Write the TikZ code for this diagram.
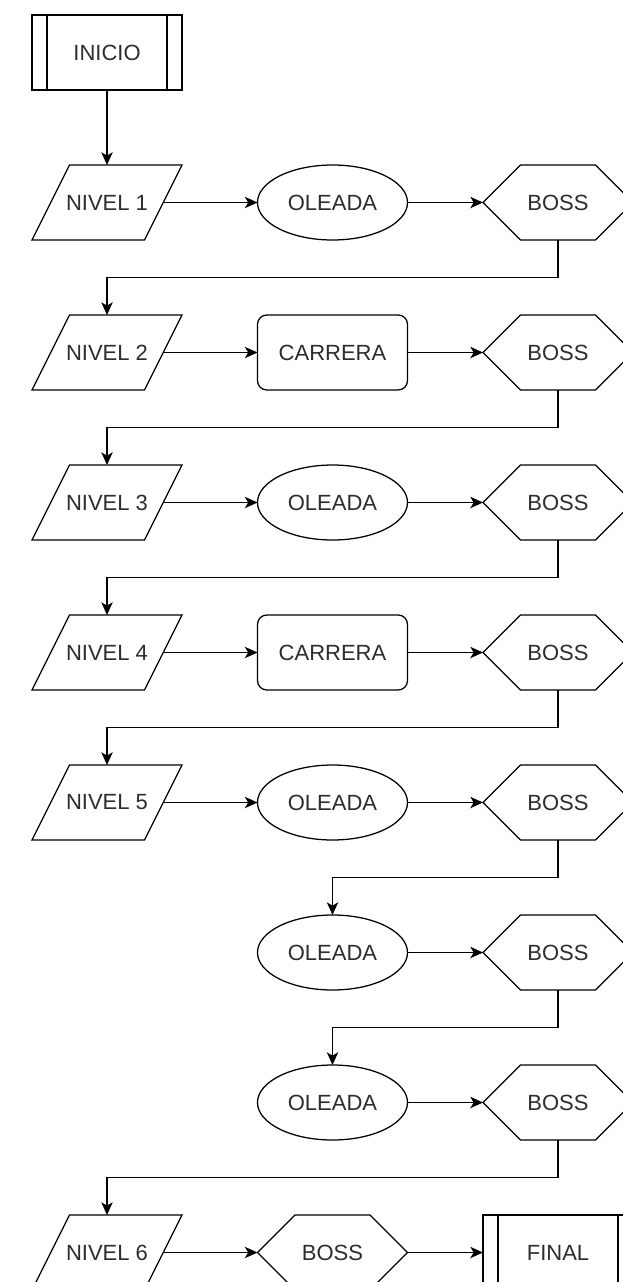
\documentclass[tikz,border=0pt]{standalone}
\usepackage{fontspec}
\setmainfont{Liberation Sans}
\usetikzlibrary{shapes.geometric,arrows.meta}
\definecolor{txt}{RGB}{45,45,45}
\tikzset{
  box/.style={minimum width=112.5pt, minimum height=56.25pt, inner sep=0pt, outer sep=0pt,
    font=\fontsize{16.5}{18}\selectfont, text=txt},
  ln/.style={line width=0.95pt, draw=black},
  arr/.style={ln, -{Stealth[length=9.5pt,width=8.5pt,inset=2.5pt]}},
  oval/.style={box, ellipse, ln},
  rbox/.style={box, rectangle, rounded corners=7pt, ln},
  proc/.style={box, rectangle, ln},
}
\begin{document}
\begin{tikzpicture}[x=0.75pt,y=-0.75pt]
\clip (0,0) rectangle (623,1282);
\fill[white] (0,0) rectangle (623,1282);
% nodes
\node[proc] (ini) at (107,52.5) {INICIO};
\node[box] (n1) at (107,202.5) {NIVEL 1};
\node[oval] (o1) at (332.5,202.5) {OLEADA};
\node[box] (b1) at (558,202.5) {BOSS};
\node[box] (n2) at (107,352.5) {NIVEL 2};
\node[rbox] (c2) at (332.5,352.5) {CARRERA};
\node[box] (b2) at (558,352.5) {BOSS};
\node[box] (n3) at (107,502.5) {NIVEL 3};
\node[oval] (o3) at (332.5,502.5) {OLEADA};
\node[box] (b3) at (558,502.5) {BOSS};
\node[box] (n4) at (107,652.5) {NIVEL 4};
\node[rbox] (c4) at (332.5,652.5) {CARRERA};
\node[box] (b4) at (558,652.5) {BOSS};
\node[box] (n5) at (107,802.5) {NIVEL 5};
\node[oval] (o5) at (332.5,802.5) {OLEADA};
\node[box] (b5) at (558,802.5) {BOSS};
\node[oval] (o6) at (332.5,952.5) {OLEADA};
\node[box] (b6) at (558,952.5) {BOSS};
\node[oval] (o7) at (332.5,1102.5) {OLEADA};
\node[box] (b7) at (558,1102.5) {BOSS};
\node[box] (n6) at (107,1252.5) {NIVEL 6};
\node[box] (b8) at (332.5,1252.5) {BOSS};
\node[proc] (fin) at (558,1252.5) {FINAL};
% process inner lines
\foreach \n in {ini,fin} {
  \draw[ln] ([xshift=11.25pt]\n.north west) -- ([xshift=11.25pt]\n.south west);
  \draw[ln] ([xshift=-11.25pt]\n.north east) -- ([xshift=-11.25pt]\n.south east);
}
% parallelograms
\foreach \n in {n1,n2,n3,n4,n5,n6}
  \draw[ln] (\n.south west) -- ([xshift=28.125pt]\n.north west) -- (\n.north east)
    -- ([xshift=-28.125pt]\n.south east) -- cycle;
% hexagons
\foreach \n in {b1,b2,b3,b4,b5,b6,b7,b8}
  \draw[ln] (\n.west) -- ([xshift=28.125pt]\n.north west) -- ([xshift=-28.125pt]\n.north east)
    -- (\n.east) -- ([xshift=-28.125pt]\n.south east) -- ([xshift=28.125pt]\n.south west) -- cycle;
% connectors
\draw[arr] (ini.south) -- (n1.north);
\foreach \a/\b/\c in {n1/o1/b1, n2/c2/b2, n3/o3/b3, n4/c4/b4, n5/o5/b5} {
  \draw[arr] ([xshift=-14.06pt]\a.east) -- (\b.west);
  \draw[arr] (\b.east) -- (\c.west);
}
\draw[arr] (o6.east) -- (b6.west);
\draw[arr] (o7.east) -- (b7.west);
\draw[arr] ([xshift=-14.06pt]n6.east) -- (b8.west);
\draw[arr] (b8.east) -- (fin.west);
\foreach \a/\b in {b1/n2, b2/n3, b3/n4, b4/n5, b5/o6, b6/o7, b7/n6}
  \draw[arr] (\a.south) -- ([yshift=-28.125pt]\a.south) -| (\b.north);
\end{tikzpicture}
\end{document}
